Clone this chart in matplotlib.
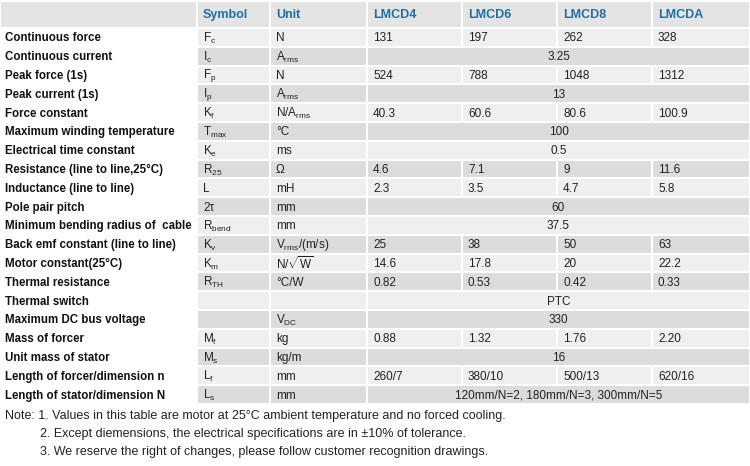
import matplotlib
matplotlib.use("Agg")
import matplotlib.pyplot as plt
from matplotlib.patches import Rectangle

fam = "Liberation Sans"
plt.rcParams["font.family"] = fam
plt.rcParams["mathtext.fontset"] = "custom"
plt.rcParams["mathtext.rm"] = fam
plt.rcParams["mathtext.it"] = fam
plt.rcParams["mathtext.bf"] = fam + ":bold"

headers = ["", "Symbol", "Unit", "LMCD4", "LMCD6", "LMCD8", "LMCDA"]
params = ["Continuous force", "Continuous current", "Peak force (1s)", "Peak current (1s)",
          "Force constant", "Maximum winding temperature", "Electrical time constant",
          "Resistance (line to line,25\u00b0C)", "Inductance (line to line)", "Pole pair pitch",
          "Minimum bending radius of  cable", "Back emf constant (line to line)",
          "Motor constant(25\u00b0C)", "Thermal resistance", "Thermal switch",
          "Maximum DC bus voltage", "Mass of forcer", "Unit mass of stator",
          "Length of forcer/dimension n", "Length of stator/dimension N"]
symbols = [r"F$_\mathrm{c}$", r"I$_\mathrm{c}$", r"F$_\mathrm{p}$", r"I$_\mathrm{p}$",
           r"K$_\mathrm{f}$", r"T$_\mathrm{max}$", r"K$_\mathrm{e}$", r"R$_\mathrm{25}$",
           "L", "2\u03c4", r"R$_\mathrm{bend}$", r"K$_\mathrm{v}$", r"K$_\mathrm{m}$",
           r"R$_\mathrm{TH}$", "", "", r"M$_\mathrm{f}$", r"M$_\mathrm{s}$",
           r"L$_\mathrm{f}$", r"L$_\mathrm{s}$"]
units = ["N", r"A$_\mathrm{rms}$", "N", r"A$_\mathrm{rms}$", r"N/A$_\mathrm{rms}$", "\u00b0C",
         "ms", "\u03a9", "mH", "mm", "mm", r"V$_\mathrm{rms}$/(m/s)", r"N/$\sqrt{\mathrm{W}}$",
         "\u00b0C/W", "", r"V$_\mathrm{DC}$", "kg", "kg/m", "mm", "mm"]
# one entry = shared value across all four models
values = [["131", "197", "262", "328"], ["3.25"], ["524", "788", "1048", "1312"], ["13"],
          ["40.3", "60.6", "80.6", "100.9"], ["100"], ["0.5"], ["4.6", "7.1", "9", "11.6"],
          ["2.3", "3.5", "4.7", "5.8"], ["60"], ["37.5"], ["25", "38", "50", "63"],
          ["14.6", "17.8", "20", "22.2"], ["0.82", "0.53", "0.42", "0.33"], ["PTC"], ["330"],
          ["0.88", "1.32", "1.76", "2.20"], ["16"], ["260/7", "380/10", "500/13", "620/16"],
          ["120mm/N=2, 180mm/N=3, 300mm/N=5"]]
notes = ["Note: 1. Values in this table are motor at 25\u00b0C ambient temperature and no forced cooling.",
         "          2. Except diemensions, the electrical specifications are in \u00b110% of tolerance.",
         "          3. We reserve the right of changes, please follow customer recognition drawings."]

col_x = [0, 197, 270, 367, 462, 557, 652, 750]
top, head_h, row_h = 2, 26, 18.8
blue = "#1f6fa3"

fig = plt.figure(figsize=(7.5, 4.66), dpi=100)
ax = fig.add_axes([0, 0, 1, 1])
ax.set_xlim(0, 750)
ax.set_ylim(466, 0)
ax.axis("off")

# header
for c in range(7):
    x0, x1 = col_x[c], col_x[c + 1]
    ax.add_patch(Rectangle((x0 + 1, top), x1 - x0 - 2, head_h - 1, fc="#e4e4e4", ec="none"))
    if headers[c]:
        ax.text(x0 + 6, top + head_h / 2, headers[c], color=blue, fontsize=9,
                fontweight="bold", va="center")

for r in range(len(params)):
    y0 = top + head_h + r * row_h
    yc = y0 + row_h / 2 + 1
    shade = "#efefef" if r % 2 == 0 else "#dcdcdc"
    ax.text(5, yc, params[r], fontsize=8.3, fontweight="bold", va="center", color="#111111")
    ax.add_patch(Rectangle((col_x[1] + 1, y0 + 1), col_x[2] - col_x[1] - 2, row_h - 2, fc=shade, ec="none"))
    ax.add_patch(Rectangle((col_x[2] + 1, y0 + 1), col_x[3] - col_x[2] - 2, row_h - 2, fc=shade, ec="none"))
    ax.text(col_x[1] + 6, yc, symbols[r], fontsize=8.5, va="center", color="#222222")
    ax.text(col_x[2] + 6, yc, units[r], fontsize=8.5, va="center", color="#222222")
    vals = values[r]
    if len(vals) == 4:
        for i, v in enumerate(vals):
            x0, x1 = col_x[3 + i], col_x[4 + i]
            ax.add_patch(Rectangle((x0 + 1, y0 + 1), x1 - x0 - 2, row_h - 2, fc=shade, ec="none"))
            ax.text(x0 + 6, yc, v, fontsize=8.5, va="center", color="#222222")
    else:
        x0, x1 = col_x[3], col_x[7]
        ax.add_patch(Rectangle((x0 + 1, y0 + 1), x1 - x0 - 2, row_h - 2, fc=shade, ec="none"))
        ax.text((x0 + x1) / 2, yc, vals[0], fontsize=8.5, va="center", ha="center", color="#222222")

for i, n in enumerate(notes):
    ax.text(5, 416 + i * 18, n, fontsize=9, va="center", color="#222222")

fig.savefig("out.png", dpi=100)
